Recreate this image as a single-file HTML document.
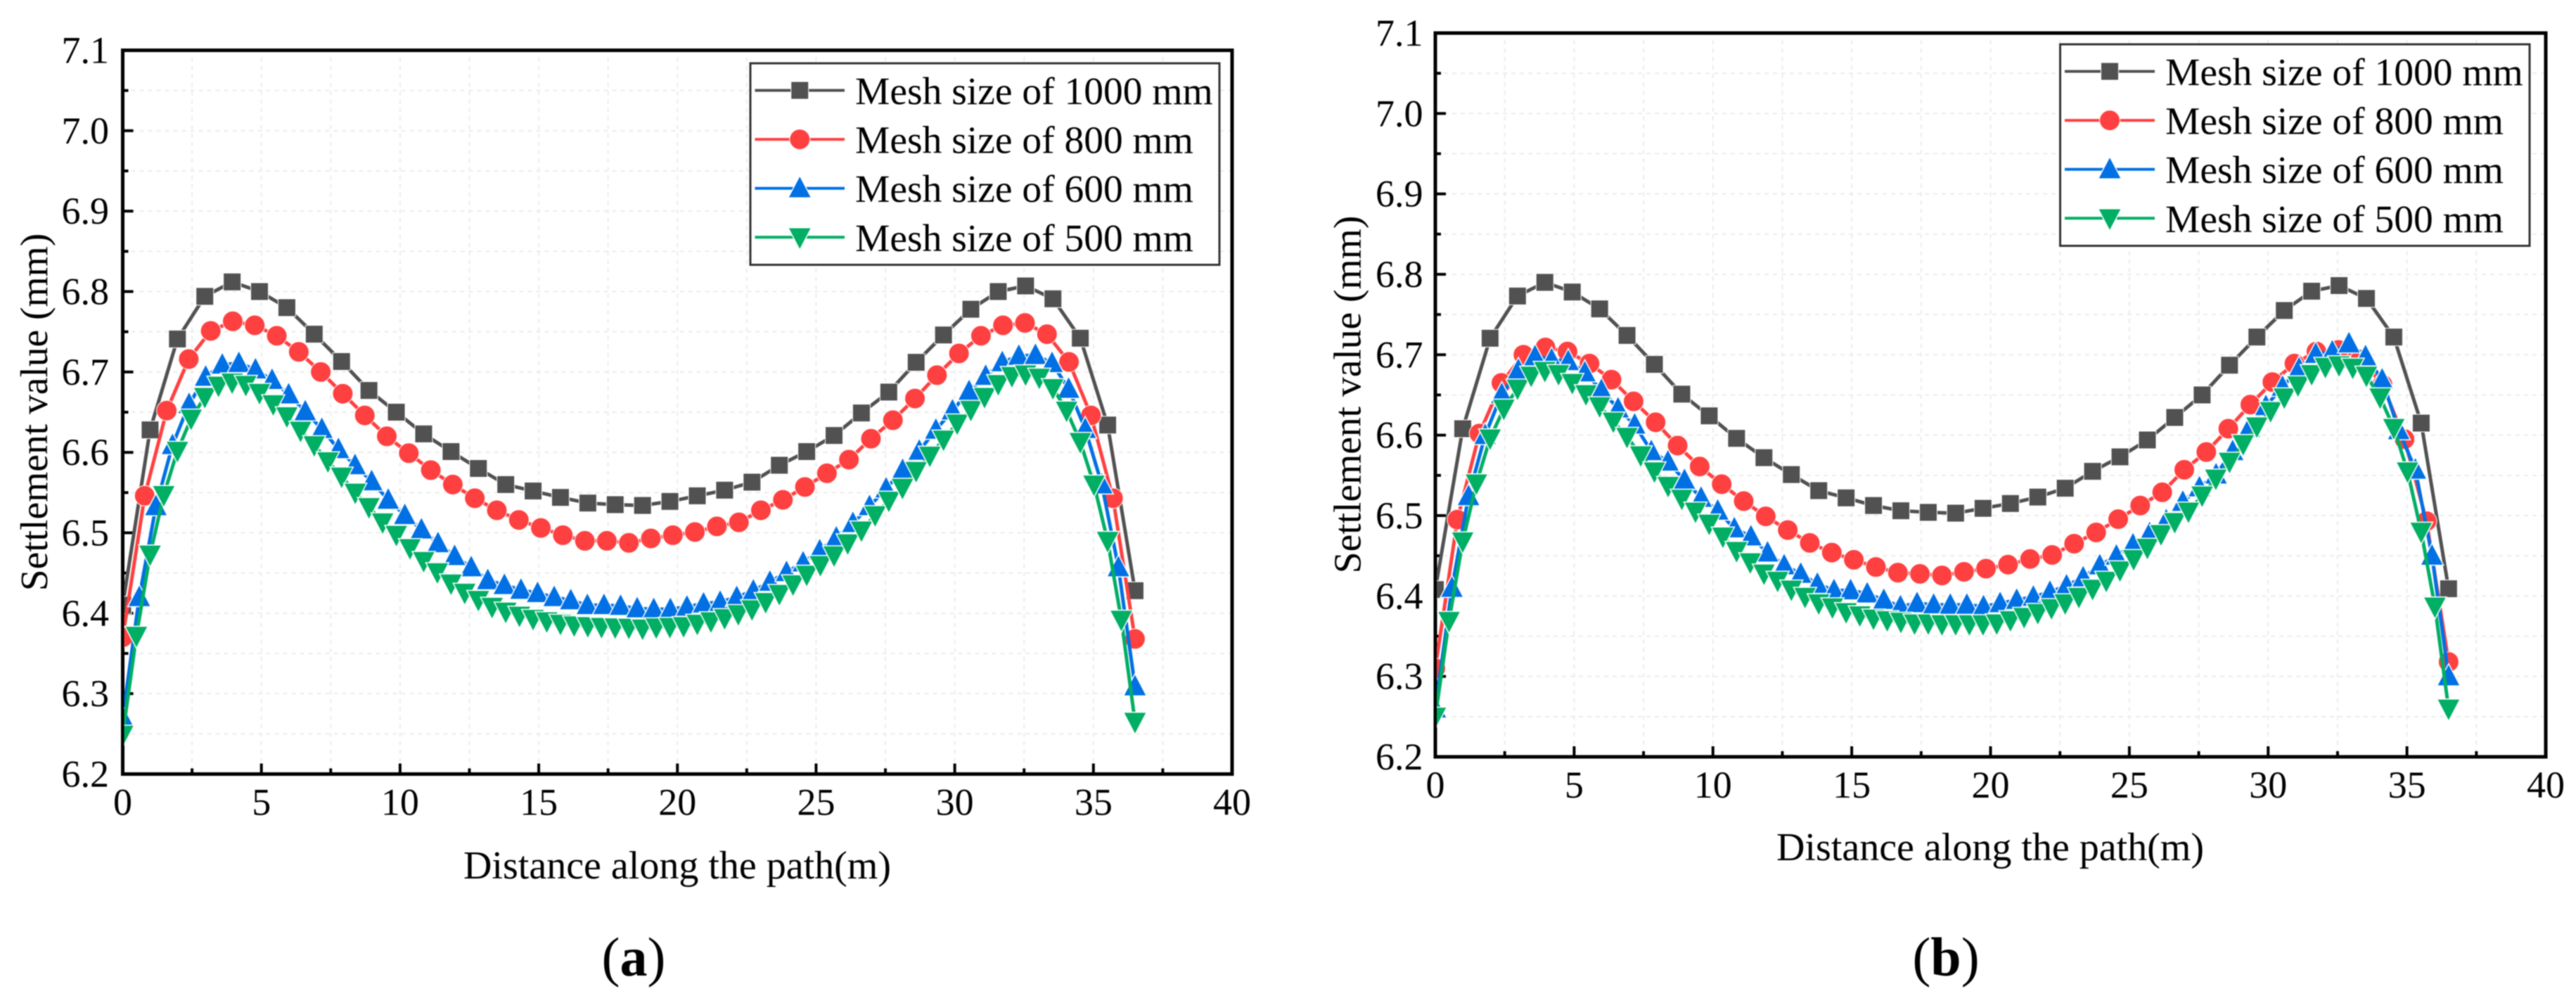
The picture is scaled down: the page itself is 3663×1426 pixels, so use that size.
<!DOCTYPE html>
<html lang="en">
<head>
<meta charset="utf-8">
<title>Settlement value along the path for four mesh sizes</title>
<style>
html,body{margin:0;padding:0;background:#fff;}
#figure{display:block;width:3663px;height:1426px;font-family:"Liberation Serif",serif;filter:blur(0.8px);}
</style>
</head>
<body>
<svg id="figure" xmlns="http://www.w3.org/2000/svg" width="3663" height="1426" viewBox="0 0 3663 1426"></svg>
<script>
// ---- chart data ----
const seriesLabels = ["Mesh size of 1000 mm", "Mesh size of 800 mm", "Mesh size of 600 mm", "Mesh size of 500 mm"];
const xTickLabels = [0, 5, 10, 15, 20, 25, 30, 35, 40];
const xMinorTicks = [2.5, 7.5, 12.5, 17.5, 22.5, 27.5, 32.5, 37.5];
const yTickLabels = ["6.2", "6.3", "6.4", "6.5", "6.6", "6.7", "6.8", "6.9", "7.0", "7.1"];
const yMinorTicks = [6.25, 6.35, 6.45, 6.55, 6.65, 6.75, 6.85, 6.95, 7.05];
const pathLength = 36.5;

const a1000 = [6.41,6.628,6.741,6.794,6.812,6.80,6.78,6.747,6.713,6.677,6.65,6.623,6.601,6.58,6.56,6.552,6.544,6.537,6.535,6.534,6.539,6.546,6.553,6.563,6.584,6.601,6.621,6.649,6.675,6.712,6.746,6.778,6.80,6.807,6.791,6.742,6.634,6.428];
const a800 = [6.37,6.546,6.652,6.716,6.751,6.763,6.758,6.745,6.725,6.70,6.673,6.646,6.62,6.599,6.578,6.56,6.543,6.528,6.516,6.506,6.497,6.49,6.49,6.4875,6.493,6.497,6.501,6.508,6.513,6.528,6.541,6.557,6.574,6.591,6.617,6.64,6.667,6.696,6.723,6.745,6.758,6.761,6.747,6.7125,6.646,6.543,6.368];
const a600 = [6.27,6.42,6.533,6.609,6.66,6.694,6.709,6.711,6.703,6.69,6.672,6.651,6.629,6.604,6.584,6.564,6.541,6.522,6.504,6.487,6.471,6.457,6.441,6.435,6.429,6.425,6.42,6.416,6.41,6.41,6.409,6.406,6.405,6.405,6.408,6.412,6.414,6.42,6.428,6.439,6.451,6.463,6.478,6.494,6.512,6.533,6.555,6.578,6.602,6.628,6.652,6.676,6.695,6.712,6.72,6.721,6.711,6.679,6.629,6.56,6.457,6.309];
const a500 = [6.249,6.372,6.473,6.547,6.602,6.642,6.669,6.683,6.687,6.684,6.674,6.66,6.645,6.627,6.609,6.589,6.57,6.55,6.532,6.513,6.4975,6.481,6.465,6.451,6.437,6.4255,6.4166,6.408,6.402,6.397,6.393,6.39,6.387,6.385,6.384,6.383,6.3825,6.382,6.381,6.3825,6.383,6.384,6.387,6.39,6.394,6.399,6.405,6.414,6.424,6.436,6.448,6.46,6.472,6.487,6.503,6.522,6.54,6.556,6.577,6.596,6.616,6.636,6.653,6.669,6.685,6.695,6.697,6.693,6.68,6.652,6.613,6.56,6.49,6.392,6.265];

const b1000 = [6.408,6.608,6.7205,6.773,6.79,6.778,6.757,6.724,6.688,6.651,6.624,6.596,6.572,6.551,6.531,6.522,6.5125,6.506,6.504,6.503,6.509,6.515,6.523,6.534,6.555,6.573,6.594,6.622,6.65,6.687,6.722,6.755,6.779,6.786,6.77,6.722,6.615,6.409];
const b800 = [6.31,6.495,6.602,6.665,6.70,6.709,6.704,6.689,6.669,6.642,6.616,6.587,6.561,6.539,6.518,6.499,6.482,6.466,6.454,6.445,6.436,6.429,6.4275,6.4255,6.43,6.434,6.439,6.446,6.451,6.465,6.479,6.4955,6.5125,6.529,6.557,6.579,6.608,6.638,6.666,6.689,6.704,6.706,6.694,6.663,6.595,6.493,6.318];
const b600 = [6.26,6.41,6.524,6.60,6.651,6.681,6.698,6.694,6.692,6.678,6.656,6.633,6.613,6.58,6.567,6.544,6.522,6.506,6.484,6.474,6.454,6.438,6.4275,6.415,6.407,6.407,6.403,6.395,6.387,6.391,6.389,6.389,6.389,6.387,6.391,6.395,6.399,6.405,6.413,6.423,6.438,6.45,6.464,6.478,6.494,6.517,6.535,6.551,6.58,6.609,6.636,6.66,6.683,6.701,6.704,6.714,6.698,6.669,6.606,6.557,6.45,6.30];
const b500 = [6.25,6.369,6.468,6.54,6.596,6.633,6.658,6.674,6.68,6.676,6.665,6.651,6.636,6.617,6.598,6.575,6.555,6.537,6.521,6.505,6.49,6.474,6.456,6.442,6.428,6.419,6.408,6.399,6.391,6.386,6.38,6.376,6.372,6.37,6.368,6.366,6.366,6.365,6.365,6.365,6.365,6.366,6.37,6.374,6.379,6.385,6.391,6.399,6.409,6.419,6.432,6.446,6.46,6.477,6.492,6.505,6.525,6.546,6.567,6.589,6.611,6.63,6.647,6.662,6.676,6.685,6.687,6.684,6.674,6.647,6.609,6.555,6.48,6.387,6.26];

const panelASeries = [a1000, a800, a600, a500];
const panelBSeries = [b1000, b800, b600, b500];

// ---- drawing ----
const NS = "http://www.w3.org/2000/svg";
const root = document.getElementById("figure");
const colors = ["#515151", "#ff4040", "#0070e4", "#00ae64"];
const markerKinds = ["square", "circle", "up", "down"];
const seriesSlugs = ["1000mm", "800mm", "600mm", "500mm"];

function make(parent, tag, attrs, text) {
  const el = document.createElementNS(NS, tag);
  for (const k in attrs) el.setAttribute(k, attrs[k]);
  if (text !== undefined) el.textContent = text;
  parent.appendChild(el);
  return el;
}

function markerShape(parent, kind, cx, cy, color) {
  const halo = "#ffffff";
  if (kind === "square") {
    return make(parent, "rect", {x: cx - 12.5, y: cy - 12.5, width: 25, height: 25, fill: color, stroke: halo, "stroke-width": 1});
  }
  if (kind === "circle") {
    return make(parent, "circle", {cx: cx, cy: cy, r: 14.5, fill: color, stroke: halo, "stroke-width": 1});
  }
  const d = kind === "up" ? -1 : 1;
  const pts = [[cx, cy + d * 18], [cx - 16.5, cy - d * 13.5], [cx + 16.5, cy - d * 13.5]].map(p => p.join(",")).join(" ");
  return make(parent, "polygon", {points: pts, fill: color, stroke: halo, "stroke-width": 1.5});
}

function drawPanel(cfg, allSeries) {
  const xScale = v => cfg.left + (v / 40) * (cfg.right - cfg.left);
  const yScale = v => cfg.bottom - ((v - 6.2) / 0.9) * (cfg.bottom - cfg.top);

  const panel = make(root, "g", {});
  
  

  const clipId = "plot-clip-" + cfg.id;
  const defs = make(panel, "defs", {});
  const clip = make(defs, "clipPath", {id: clipId});
  make(clip, "rect", {x: cfg.left + 2, y: cfg.top, width: cfg.right - cfg.left - 2, height: cfg.bottom - cfg.top});

  // grid
  const grid = make(panel, "g", {stroke: "#ececec", "stroke-width": 2, "stroke-dasharray": "6 6", fill: "none"});
  
  
  xTickLabels.concat(xMinorTicks).forEach(v => {
    if (v === 0 || v === 40) return;
    make(grid, "line", {x1: xScale(v), x2: xScale(v), y1: cfg.top + 10, y2: cfg.bottom});
  });
  yTickLabels.map(Number).concat(yMinorTicks).forEach(v => {
    if (v === 6.2 || v === 7.1) return;
    make(grid, "line", {x1: cfg.left, x2: cfg.right, y1: yScale(v), y2: yScale(v)});
  });

  // ticks and labels
  const axes = make(panel, "g", {});
  
  
  xTickLabels.forEach(v => {
    const x = xScale(v);
    const tick = make(axes, "line", {x1: x, x2: x, y1: cfg.bottom, y2: cfg.bottom - 15, stroke: "#000", "stroke-width": 4});
    
    
    const label = make(axes, "text", {x: x, y: cfg.bottom + 58, "text-anchor": "middle", "font-size": 54, fill: "#000"}, String(v));
    
    
  });
  xMinorTicks.forEach(v => {
    const x = xScale(v);
    const tick = make(axes, "line", {x1: x, x2: x, y1: cfg.bottom, y2: cfg.bottom - 8, stroke: "#000", "stroke-width": 4});
    
    
  });
  yTickLabels.forEach(t => {
    const y = yScale(Number(t));
    const tick = make(axes, "line", {x1: cfg.left, x2: cfg.left + 15, y1: y, y2: y, stroke: "#000", "stroke-width": 4});
    
    
    const label = make(axes, "text", {x: cfg.yLabelRight, y: y + 18, "text-anchor": "end", "font-size": 54, fill: "#000"}, t);
    
    
  });
  yMinorTicks.forEach(v => {
    const y = yScale(v);
    const tick = make(axes, "line", {x1: cfg.left, x2: cfg.left + 8, y1: y, y2: y, stroke: "#000", "stroke-width": 4});
    
    
  });

  const frame = make(axes, "rect", {x: cfg.left, y: cfg.top, width: cfg.right - cfg.left, height: cfg.bottom - cfg.top, fill: "none", stroke: "#000", "stroke-width": 5});
  
  

  // series
  const plot = make(panel, "g", {"clip-path": "url(#" + clipId + ")"});
  
  
  allSeries.forEach((values, s) => {
    const group = make(plot, "g", {});
    
    
    const step = pathLength / (values.length - 1);
    const pts = values.map((v, i) => xScale(i * step).toFixed(2) + "," + yScale(v).toFixed(2)).join(" ");
    const line = make(group, "polyline", {points: pts, fill: "none", stroke: colors[s], "stroke-width": 5, "stroke-linejoin": "round"});
    
    
    values.forEach((v, i) => {
      const m = markerShape(group, markerKinds[s], xScale(i * step), yScale(v), colors[s]);
      
      
    });
  });

  // axis titles
  const xTitle = make(panel, "text", {x: cfg.xTitleX, y: cfg.xTitleY, "text-anchor": "middle", "font-size": 56, fill: "#000"}, "Distance along the path(m)");
  
  
  const yTitle = make(panel, "text", {transform: "translate(" + cfg.yTitleX + "," + cfg.yTitleY + ") rotate(-90)", "text-anchor": "middle", "font-size": 55.5, fill: "#000"}, "Settlement value (mm)");
  
  

  // legend
  const legend = make(panel, "g", {});
  
  
  const box = make(legend, "rect", {x: cfg.legend.x, y: cfg.legend.y, width: cfg.legend.w, height: cfg.legend.h, fill: "#fff", stroke: "#333", "stroke-width": 3});
  
  
  seriesLabels.forEach((label, s) => {
    const rowY = cfg.legend.y + 38.5 + s * 69.6;
    const entry = make(legend, "g", {});
    
    
    make(entry, "line", {x1: cfg.legend.lineX1, x2: cfg.legend.lineX2, y1: rowY, y2: rowY, stroke: colors[s], "stroke-width": 4});
    markerShape(entry, markerKinds[s], (cfg.legend.lineX1 + cfg.legend.lineX2) / 2, rowY, colors[s]);
    make(entry, "text", {x: cfg.legend.textX, y: rowY + 19.5, "font-size": 55.5, fill: "#000"}, label);
  });

  // panel caption
  const caption = make(panel, "text", {x: cfg.captionX, y: 1387, "text-anchor": "middle", "font-size": 78, fill: "#000"});
  
  
  make(caption, "tspan", {}, "(");
  make(caption, "tspan", {"font-weight": "bold"}, cfg.id);
  make(caption, "tspan", {}, ")");
}

drawPanel({
  id: "a", left: 174.5, right: 1752, top: 71.5, bottom: 1100.5, yLabelRight: 155,
  xTitleX: 963, xTitleY: 1249, yTitleX: 67, yTitleY: 586, captionX: 901,
  legend: {x: 1067, y: 90, w: 667, h: 286.5, lineX1: 1073.5, lineX2: 1201, textX: 1216}
}, panelASeries);

drawPanel({
  id: "b", left: 2041, right: 3620, top: 47, bottom: 1076, yLabelRight: 2023.5,
  xTitleX: 2830, xTitleY: 1223, yTitleX: 1934.5, yTitleY: 561, captionX: 2767,
  legend: {x: 2929.5, y: 63, w: 667.5, h: 286.5, lineX1: 2936, lineX2: 3064, textX: 3079}
}, panelBSeries);
</script>
</body>
</html>
